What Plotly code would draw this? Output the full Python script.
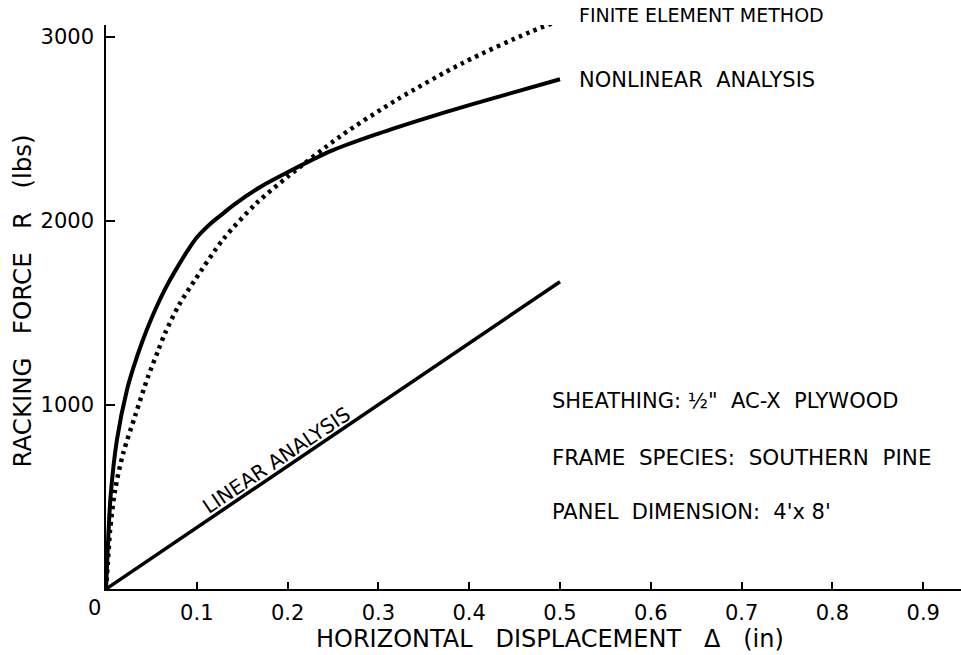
import plotly.graph_objects as go

# ---- data ----
nonlinear_x = [0, 0.002, 0.005, 0.012, 0.023, 0.03, 0.04, 0.05, 0.06, 0.07, 0.08, 0.09,
               0.10, 0.115, 0.13, 0.14, 0.17, 0.2, 0.25, 0.3, 0.35, 0.4, 0.45, 0.5]
nonlinear_y = [0, 230, 500, 810, 1080, 1200, 1345, 1470, 1580, 1675, 1760, 1840,
               1910, 1985, 2045, 2085, 2185, 2265, 2385, 2475, 2555, 2630, 2700, 2770]

fem_x = [0, 0.002, 0.0045, 0.010, 0.019, 0.032, 0.046, 0.057, 0.065, 0.08, 0.098,
         0.129, 0.166, 0.2, 0.258, 0.32, 0.393, 0.467, 0.5]
fem_y = [0, 141, 320, 538, 739, 940, 1150, 1290, 1390, 1540, 1680,
         1900, 2098, 2240, 2460, 2658, 2859, 3027, 3090]

linear_x = [0, 0.5]
linear_y = [0, 1670]

x_tick_vals = [0.1, 0.2, 0.3, 0.4, 0.5, 0.6, 0.7, 0.8, 0.9]
x_tick_text = ["0.1", "0.2", "0.3", "0.4", "0.5", "0.6", "0.7", "0.8", "0.9"]
y_tick_vals = [1000, 2000, 3000]
y_tick_text = ["1000", "2000", "3000"]

FONT = "DejaVu Sans"
BLACK = "#000000"

fig = go.Figure()
fig.add_trace(go.Scatter(x=fem_x, y=fem_y, mode="lines",
                         line=dict(color=BLACK, width=4.5, dash="3.5px,4.5px", shape="spline", smoothing=0.8),
                         hoverinfo="skip", showlegend=False))
fig.add_trace(go.Scatter(x=nonlinear_x, y=nonlinear_y, mode="lines",
                         line=dict(color=BLACK, width=4, shape="spline", smoothing=0.8),
                         hoverinfo="skip", showlegend=False))
fig.add_trace(go.Scatter(x=linear_x, y=linear_y, mode="lines",
                         line=dict(color=BLACK, width=3.5),
                         hoverinfo="skip", showlegend=False))

ann = []
def text(x, y, s, size=19, xanchor="left", angle=0, xref="x", yref="y", xshift=0, yshift=0):
    ann.append(dict(x=x, y=y, xref=xref, yref=yref, text=s, showarrow=False,
                    xanchor=xanchor, yanchor="middle", textangle=angle,
                    xshift=xshift, yshift=yshift,
                    font=dict(family=FONT, size=size, color=BLACK)))

text(0.519, 1.017, "FINITE ELEMENT METHOD", 19, yref="paper")
text(0.519, 2766, "NONLINEAR&nbsp;&nbsp;ANALYSIS", 21)
text(0.489, 1022, "SHEATHING:&nbsp;½\"&nbsp;&nbsp;AC-X&nbsp;&nbsp;PLYWOOD", 21)
text(0.489, 717, "FRAME&nbsp;&nbsp;SPECIES:&nbsp;&nbsp;SOUTHERN&nbsp;&nbsp;PINE", 21.5)
text(0.489, 418, "PANEL&nbsp;&nbsp;DIMENSION:&nbsp;&nbsp;4'x&nbsp;8'", 21)
text(0.188, 700, "LINEAR ANALYSIS", 20, xanchor="center", angle=-34)
text(0, 0, "0", 21, xanchor="center", xshift=-12, yshift=-19)
# axis titles
text(0.519, -0.0895, "HORIZONTAL&nbsp;&nbsp;&nbsp;DISPLACEMENT&nbsp;&nbsp;&nbsp;Δ&nbsp;&nbsp;&nbsp;(in)", 24,
     xanchor="center", xref="paper", yref="paper")
text(-0.098, 0.51, "RACKING&nbsp;&nbsp;&nbsp;FORCE&nbsp;&nbsp;&nbsp;R&nbsp;&nbsp;&nbsp;(lbs)", 24.5,
     xanchor="center", angle=-90, xref="paper", yref="paper")

fig.update_layout(
    width=961, height=655,
    margin=dict(l=106, r=0, t=25, b=66),
    paper_bgcolor="white", plot_bgcolor="white",
    font=dict(family=FONT, size=21, color=BLACK),
    annotations=ann,
    xaxis=dict(range=[0, 0.9416], showline=True, linecolor=BLACK, linewidth=1.5,
               ticks="inside", ticklen=7, tickwidth=1.5, tickcolor=BLACK,
               tickvals=x_tick_vals, ticktext=x_tick_text, showgrid=False, zeroline=False,
               tickfont=dict(family=FONT, size=21, color=BLACK), ticklabelstandoff=4),
    yaxis=dict(range=[0, 3065], showline=True, linecolor=BLACK, linewidth=1.5,
               ticks="inside", ticklen=9, tickwidth=1.5, tickcolor=BLACK,
               tickvals=y_tick_vals, ticktext=y_tick_text, showgrid=False, zeroline=False,
               tickfont=dict(family=FONT, size=21, color=BLACK), ticklabelstandoff=6),
)

fig.write_html("out.html", config={"displayModeBar": False},
               post_script="document.body.style.margin='0';")
